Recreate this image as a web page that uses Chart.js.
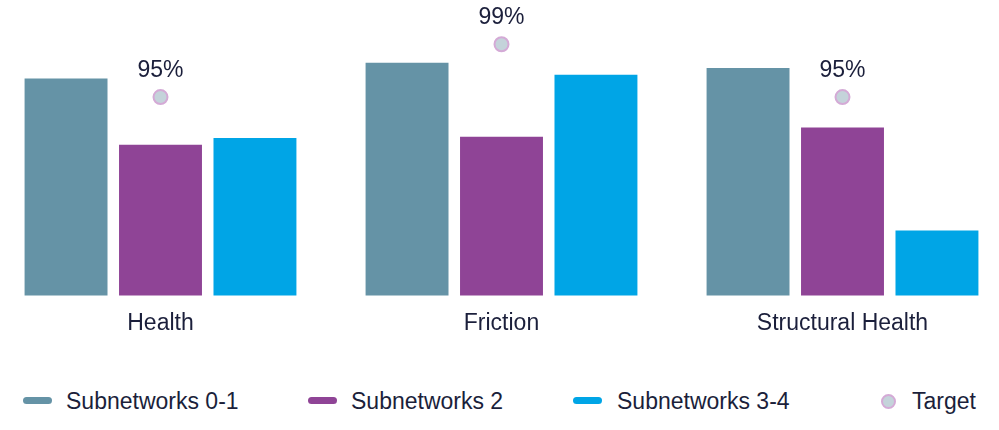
<!DOCTYPE html>
<html>
<head>
<meta charset="utf-8">
<script src="https://cdn.jsdelivr.net/npm/chart.js@4/dist/chart.umd.min.js"></script>
<style>
    html, body {
        margin: 0;
        padding: 0;
        background: #FFFFFF;
        overflow: hidden;
    }
    #wrap {
        position: relative;
        width: 999px;
        height: 430px;
        overflow: hidden;
    }
    #chart {
        position: absolute;
        left: -10px;
        top: 0;
    }
    .legend-item {
        position: absolute;
        top: 390px;
        height: 23px;
        font-family: "Liberation Sans", Arial, sans-serif;
        font-size: 23px;
        line-height: 23px;
        color: #1B1F3B;
        white-space: nowrap;
    }
    .legend-swatch {
        position: absolute;
        top: 397px;
        width: 29px;
        height: 7px;
        border-radius: 4px;
    }
    .legend-dot {
        position: absolute;
        top: 394px;
        width: 11px;
        height: 11px;
        border-radius: 50%;
        border: 2px solid #D4AAD6;
        background: #C4D3DA;
    }
</style>
</head>
<body>
<div id="wrap">
    <canvas id="chart" width="1023" height="354"></canvas>
    <div id="legend"></div>
</div>
<script>
// Chart data
const categories = ['Health', 'Friction', 'Structural Health'];
const seriesNames = ['Subnetworks 0-1', 'Subnetworks 2', 'Subnetworks 3-4'];
const subnet01 = [96.4, 97.6, 97.2];
const subnet2 = [91.4, 92.0, 92.7];
const subnet34 = [91.9, 96.7, 84.9];
const targetName = 'Target';
const target = [95, 99, 95];
const yMin = 80;
const yMax = 100;

const colors = ['#6593A6', '#8F4496', '#00A5E6'];
const textColor = '#1B1F3B';
const fontFamily = '"Liberation Sans", Arial, sans-serif';

// Legend columns (left edge of swatch, left edge of text)
const legendSlots = [
    { swatch: 23, text: 66 },
    { swatch: 308, text: 351 },
    { swatch: 573, text: 617 },
    { swatch: 881, text: 912 }
];

function barDataset(label, data, color) {
    return {
        type: 'bar',
        label: label,
        data: data,
        backgroundColor: color,
        borderWidth: 0,
        categoryPercentage: 0.831,
        barPercentage: 0.878,
        order: 2
    };
}

// Writes the value above each target marker
const targetLabels = {
    id: 'targetLabels',
    afterDatasetsDraw(chart) {
        const ctx = chart.ctx;
        const meta = chart.getDatasetMeta(3);
        ctx.save();
        ctx.font = `23px ${fontFamily}`;
        ctx.fillStyle = textColor;
        ctx.textAlign = 'center';
        ctx.textBaseline = 'alphabetic';
        meta.data.forEach((pt, i) => {
            ctx.fillText(`${target[i]}%`, pt.x, pt.y - 20);
        });
        ctx.restore();
    }
};

const chart = new Chart(document.getElementById('chart').getContext('2d'), {
    data: {
        labels: categories,
        datasets: [
            barDataset(seriesNames[0], subnet01, colors[0]),
            barDataset(seriesNames[1], subnet2, colors[1]),
            barDataset(seriesNames[2], subnet34, colors[2]),
            {
                type: 'line',
                label: targetName,
                data: target,
                showLine: false,
                pointRadius: 7,
                pointBorderWidth: 2,
                pointBackgroundColor: '#C4D3DA',
                pointBorderColor: '#D4AAD6',
                order: 1
            }
        ]
    },
    options: {
        responsive: false,
        animation: false,
        layout: {
            autoPadding: false,
            padding: { left: 0, right: 0, top: 31, bottom: 3 }
        },
        scales: {
            x: {
                offset: true,
                grid: { display: false, drawTicks: false },
                border: { display: false },
                ticks: {
                    padding: 14,
                    color: textColor,
                    font: { family: fontFamily, size: 23 }
                }
            },
            y: {
                display: false,
                min: yMin,
                max: yMax
            }
        },
        plugins: {
            legend: { display: false },
            tooltip: { enabled: false }
        }
    },
    plugins: [targetLabels]
});

// HTML legend below the chart
const legend = document.getElementById('legend');
seriesNames.concat([targetName]).forEach((name, i) => {
    const slot = legendSlots[i];
    const mark = document.createElement('div');
    if (i < 3) {
        mark.className = 'legend-swatch';
        mark.style.background = colors[i];
    } else {
        mark.className = 'legend-dot';
    }
    mark.style.left = slot.swatch + 'px';
    const label = document.createElement('div');
    label.className = 'legend-item';
    label.style.left = slot.text + 'px';
    label.textContent = name;
    legend.appendChild(mark);
    legend.appendChild(label);
});
</script>
</body>
</html>
